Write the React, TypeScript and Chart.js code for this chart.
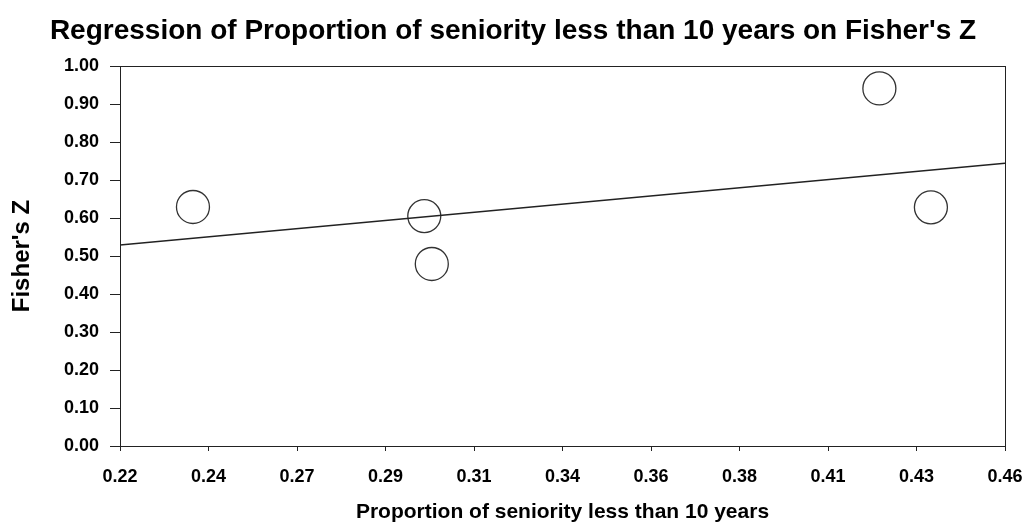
import React, { useEffect, useRef } from "react";
import { Chart, registerables } from "chart.js";

Chart.register(...registerables);

const chartTitle = "Regression of Proportion of seniority less than 10 years on Fisher's Z";
const xAxisTitle = "Proportion of seniority less than 10 years";
const yAxisTitle = "Fisher's Z";

const studyX = [0.2394, 0.3009, 0.3029, 0.4219, 0.4356];
const studyY = [0.629, 0.605, 0.479, 0.941, 0.628];

const regressionX = [0.22, 0.4553];
const regressionY = [0.529, 0.744];

const xMin = 0.22;
const xMax = 0.4553;
const xTickLabels = ["0.22", "0.24", "0.27", "0.29", "0.31", "0.34", "0.36", "0.38", "0.41", "0.43", "0.46"];
const yTickValues = [0, 0.1, 0.2, 0.3, 0.4, 0.5, 0.6, 0.7, 0.8, 0.9, 1.0];

const FONT = "'Liberation Sans', Arial, Helvetica, sans-serif";

const framePlugin = {
  id: "frame",
  afterDraw(chart: any) {
    const { ctx, chartArea } = chart;
    ctx.save();
    ctx.strokeStyle = "#222";
    ctx.lineWidth = 1;
    ctx.strokeRect(
      Math.round(chartArea.left) + 0.5,
      Math.round(chartArea.top) + 0.5,
      Math.round(chartArea.right - chartArea.left),
      Math.round(chartArea.bottom - chartArea.top)
    );
    ctx.restore();
  },
};

export default function App() {
  const canvasRef = useRef<HTMLCanvasElement | null>(null);

  useEffect(() => {
    document.body.style.margin = "0";
    const canvas = canvasRef.current;
    if (!canvas) return;
    const step = (xMax - xMin) / (xTickLabels.length - 1);

    const chart = new Chart(canvas, {
      type: "scatter",
      data: {
        datasets: [
          {
            type: "line",
            data: regressionX.map((x, i) => ({ x, y: regressionY[i] })),
            borderColor: "#222",
            borderWidth: 1.4,
            pointRadius: 0,
            fill: false,
            tension: 0,
          } as any,
          {
            type: "scatter",
            data: studyX.map((x, i) => ({ x, y: studyY[i] })),
            pointRadius: 16.5,
            pointHoverRadius: 16.5,
            pointStyle: "circle",
            backgroundColor: "rgba(0,0,0,0)",
            borderColor: "#333",
            borderWidth: 1.3,
            clip: false,
          } as any,
        ],
      },
      options: {
        animation: false,
        responsive: true,
        maintainAspectRatio: false,
        events: [],
        layout: { padding: { left: 0, right: 0, top: 0, bottom: 0 } },
        plugins: {
          legend: { display: false },
          tooltip: { enabled: false },
          title: {
            display: true,
            text: chartTitle,
            color: "#000",
            font: { family: FONT, size: 28, weight: "bold" },
            padding: { top: 14, bottom: 18.4 },
          },
        },
        scales: {
          x: {
            type: "linear",
            min: xMin,
            max: xMax,
            afterBuildTicks: (scale: any) => {
              scale.ticks = xTickLabels.map((_, i) => ({ value: xMin + i * step }));
            },
            afterFit: (scale: any) => {
              scale.height = 81;
              scale.paddingRight = 21;
              scale.paddingLeft = 0;
            },
            ticks: {
              autoSkip: false,
              maxRotation: 0,
              padding: 15,
              color: "#000",
              font: { family: FONT, size: 18, weight: "bold" },
              callback: (_v: any, i: number) => xTickLabels[i],
            },
            grid: {
              drawOnChartArea: false,
              drawTicks: true,
              tickLength: 5,
              color: "#222",
            },
            border: { display: true, color: "#222", width: 1 },
            title: {
              display: true,
              text: xAxisTitle,
              color: "#000",
              font: { family: FONT, size: 21, weight: "bold" },
              padding: { top: 0, bottom: 2.4 },
            },
          },
          y: {
            type: "linear",
            min: 0,
            max: 1,
            afterBuildTicks: (scale: any) => {
              scale.ticks = yTickValues.map((v) => ({ value: v }));
            },
            afterFit: (scale: any) => {
              scale.width = 120;
            },
            ticks: {
              padding: 11,
              color: "#000",
              font: { family: FONT, size: 18, weight: "bold" },
              callback: (v: any) => Number(v).toFixed(2),
            },
            grid: {
              drawOnChartArea: false,
              drawTicks: true,
              tickLength: 10,
              color: "#222",
            },
            border: { display: true, color: "#222", width: 1 },
            title: {
              display: true,
              text: yAxisTitle,
              color: "#000",
              font: { family: FONT, size: 24, weight: "bold" },
              padding: { top: 7.6, bottom: 0 },
            },
          },
        },
      },
      plugins: [framePlugin],
    });

    return () => chart.destroy();
  }, []);

  return (
    <div style={{ position: "relative", width: 1026, height: 527 }}>
      <canvas ref={canvasRef} />
    </div>
  );
}
